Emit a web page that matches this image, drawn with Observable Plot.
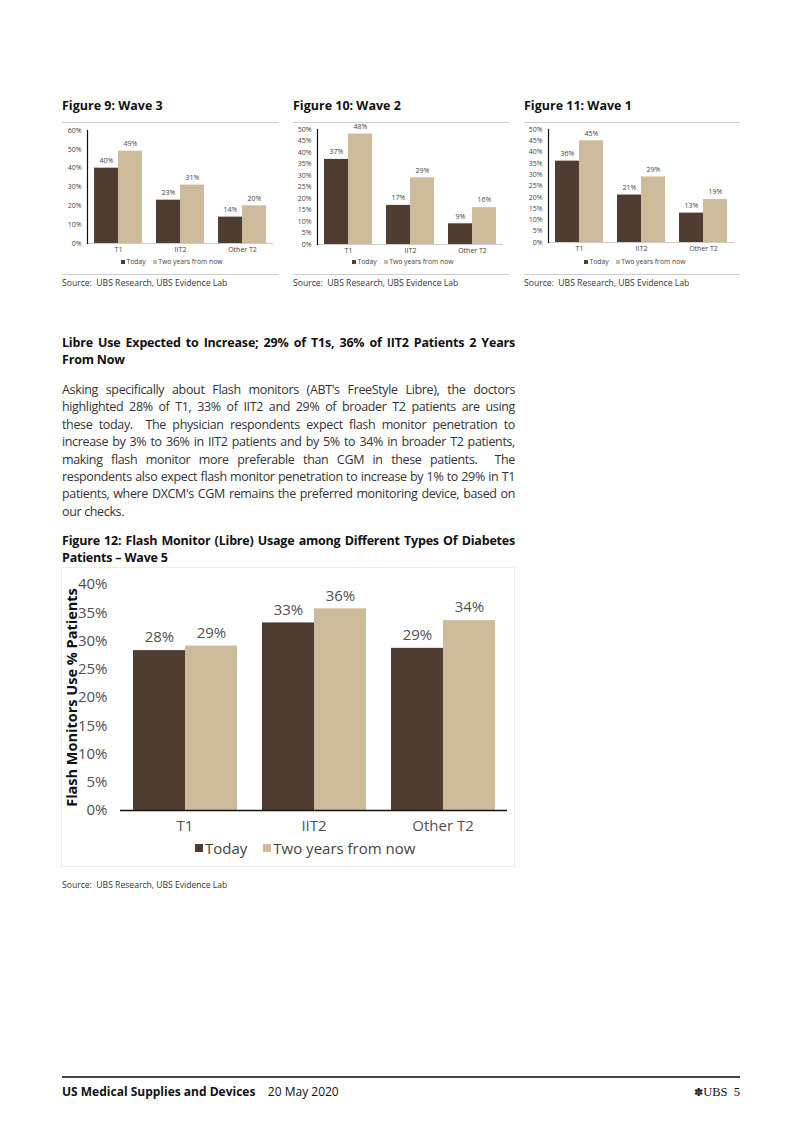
<!DOCTYPE html>
<html>
<head>
<meta charset="utf-8">
<script src="https://cdn.jsdelivr.net/npm/d3@7"></script>
<script src="https://cdn.jsdelivr.net/npm/@observablehq/plot@0.6"></script>
<style>
  html, body { margin: 0; padding: 0; background: #fff; }
  body { width: 802px; height: 1133px; position: relative; overflow: hidden; font-family: "Open Sans", sans-serif; color: #222; }
  .abs { position: absolute; }
  .ftitle { font-weight: 700; font-size: 12.5px; line-height: 16px; color: #111; white-space: nowrap; }
  .rule { height: 0; border-top: 1px solid #cfcfcf; }
  .src { font-size: 8.6px; color: #333; white-space: nowrap; line-height: 12px; }
  .legend { display: flex; align-items: center; white-space: nowrap; color: #444; }
  .sw { display: inline-block; }
  .jl { white-space: nowrap; text-align: justify; text-align-last: justify; width: 453px; }
  .nl { white-space: nowrap; }
  .para { font-size: 12.5px; line-height: 17.4px; color: #333; letter-spacing: -0.35px; }
  .head { font-size: 12.5px; line-height: 16.5px; font-weight: 700; color: #111; letter-spacing: -0.2px; }
</style>
</head>
<body>
<script>
// ---------------- data ----------------
const categories = ["T1", "IIT2", "Other T2"];
const seriesNames = ["Today", "Two years from now"];
const seriesColors = ["#4f3d31", "#cdbb9b"];

const wave3Today  = [0.40, 0.23, 0.14];
const wave3Future = [0.49, 0.31, 0.20];
const wave2Today  = [0.37, 0.17, 0.09];
const wave2Future = [0.48, 0.29, 0.16];
const wave1Today  = [0.36, 0.21, 0.13];
const wave1Future = [0.45, 0.29, 0.19];
const wave5Today  = [0.283, 0.332, 0.287];
const wave5Future = [0.291, 0.357, 0.336];

const wave3Ticks = [0, 0.1, 0.2, 0.3, 0.4, 0.5, 0.6];
const fiveStepTicks = [0, 0.05, 0.1, 0.15, 0.2, 0.25, 0.3, 0.35, 0.4, 0.45, 0.5];
const wave5Ticks = [0, 0.05, 0.1, 0.15, 0.2, 0.25, 0.3, 0.35, 0.4];

const pct = d3.format(".0%");

function rowsOf(today, future) {
  const rows = [];
  categories.forEach((c, i) => {
    rows.push({category: c, series: seriesNames[0], value: today[i]});
    rows.push({category: c, series: seriesNames[1], value: future[i]});
  });
  return rows;
}

function el(tag, cls, style, html) {
  const e = document.createElement(tag);
  if (cls) e.className = cls;
  if (style) Object.assign(e.style, style);
  if (html != null) e.innerHTML = html;
  document.body.appendChild(e);
  return e;
}

function makeChart(o) {
  const rows = rowsOf(o.today, o.future);
  const marks = [
    Plot.axisY({ticks: o.ticks, tickFormat: pct, tickSize: 0, tickPadding: o.tickPadding, label: null, fontSize: o.fontSize, fill: o.tickColor}),
    Plot.axisFx({anchor: "bottom", tickSize: 0, tickPadding: o.catPadding, label: null, fontSize: o.catSize, fill: o.catColor}),
    Plot.barY(rows, {fx: "category", x: "series", y: "value", fill: "series"}),
    Plot.text(rows, {fx: "category", x: "series", y: "value", text: d => pct(d.value), dy: o.labelDy, fontSize: o.fontSize, fill: o.tickColor}),
    Plot.ruleY([0], {stroke: o.baseColor, strokeWidth: o.baseWidth})
  ];
  if (o.leftLine) marks.push(Plot.frame({anchor: "left", facetAnchor: "left", stroke: "#111", strokeWidth: 1.2}));
  if (o.yTitle) marks.push(Plot.text([o.yTitle], {frameAnchor: "left", facetAnchor: "left", textAnchor: "middle", lineAnchor: "middle", rotate: -90, dx: o.yTitleDx, fontSize: o.yTitleSize, fontWeight: "bold", fill: "#111", text: d => d}));
  return Plot.plot({
    width: o.width, height: o.height,
    marginLeft: o.ml, marginRight: o.mr, marginTop: o.mt, marginBottom: o.mb,
    style: {fontFamily: "'Open Sans', sans-serif", color: o.tickColor, background: "transparent", overflow: "visible"},
    fx: {domain: categories, paddingInner: 0, paddingOuter: 0, label: null},
    x: {domain: seriesNames, paddingInner: 0, paddingOuter: o.barPadOuter, axis: null},
    y: {domain: [0, o.ymax], axis: null},
    color: {domain: seriesNames, range: seriesColors},
    marks
  });
}

function legend(left, top, fontSize, sw, gap, inner) {
  const L = el("div", "abs legend", {left: left + "px", top: top + "px", fontSize: fontSize + "px", lineHeight: (fontSize + 3) + "px"});
  seriesNames.forEach((s, i) => {
    const item = document.createElement("span");
    item.style.display = "inline-flex";
    item.style.alignItems = "center";
    item.style.marginRight = (i === 0 ? gap : 0) + "px";
    const box = document.createElement("span");
    box.className = "sw";
    Object.assign(box.style, {width: sw + "px", height: sw + "px", background: seriesColors[i], marginRight: inner + "px"});
    item.appendChild(box);
    item.appendChild(document.createTextNode(s));
    L.appendChild(item);
  });
}

// ---------------- small figures ----------------
const small = [
  {title: "Figure 9: Wave 3", left: 62, w: 217, today: wave3Today, future: wave3Future, ticks: wave3Ticks, ymax: 0.6, h: 132, mt: 6, legLeft: 121},
  {title: "Figure 10: Wave 2", left: 293, w: 216, today: wave2Today, future: wave2Future, ticks: fiveStepTicks, ymax: 0.5, h: 133, mt: 5, legLeft: 352},
  {title: "Figure 11: Wave 1", left: 524, w: 216, today: wave1Today, future: wave1Future, ticks: fiveStepTicks, ymax: 0.5, h: 131, mt: 5, legLeft: 584}
];

small.forEach(f => {
  el("div", "abs ftitle", {left: f.left + "px", top: "98px"}, f.title);
  el("div", "abs rule", {left: f.left + "px", top: "122px", width: f.w + "px"});
  const svg = makeChart({
    width: f.w, height: f.h, ml: 24, mr: 6, mt: f.mt, mb: 13,
    today: f.today, future: f.future, ticks: f.ticks, ymax: f.ymax,
    tickPadding: 6, fontSize: 7, tickColor: "#444", labelDy: -7.5,
    catPadding: 4, catSize: 7, catColor: "#444",
    barPadOuter: 0.25, baseColor: "#bdbdbd", baseWidth: 0.8, leftLine: true
  });
  const wrap = el("div", "abs", {left: f.left + "px", top: "124px"});
  wrap.appendChild(svg);
  legend(f.legLeft, 257, 6.8, 4, 7, 1.5);
  el("div", "abs rule", {left: f.left + "px", top: "274px", width: f.w + "px"});
  el("div", "abs src", {left: f.left + "px", top: "277px"}, "Source:&nbsp; UBS Research, UBS Evidence Lab");
});

// ---------------- text ----------------
el("div", "abs head", {left: "62px", top: "335px"},
  '<div class="jl">Libre Use Expected to Increase; 29% of T1s, 36% of IIT2 Patients 2 Years</div><div class="nl">From Now</div>');

const paraLines = [
  "Asking specifically about Flash monitors (ABT's FreeStyle Libre), the doctors",
  "highlighted 28% of T1, 33% of IIT2 and 29% of broader T2 patients are using",
  "these today.&nbsp; The physician respondents expect flash monitor penetration to",
  "increase by 3% to 36% in IIT2 patients and by 5% to 34% in broader T2 patients,",
  "making flash monitor more preferable than CGM in these patients.&nbsp; The",
  "respondents also expect flash monitor penetration to increase by 1% to 29% in T1",
  "patients, where DXCM's CGM remains the preferred monitoring device, based on",
  "our checks."
];
el("div", "abs para", {left: "62px", top: "381px"},
  paraLines.map((l, i) => `<div class="${i < paraLines.length - 1 ? "jl" : "nl"}">${l}</div>`).join(""));

el("div", "abs head", {left: "62px", top: "533px"},
  '<div class="jl">Figure 12: Flash Monitor (Libre) Usage among Different Types Of Diabetes</div><div class="nl">Patients – Wave 5</div>');

// ---------------- big figure ----------------
el("div", "abs", {left: "61px", top: "567px", width: "454px", height: "300px", border: "1px solid #ececec", boxSizing: "border-box"});
const big = makeChart({
  width: 453, height: 268, ml: 58, mr: 8, mt: 14, mb: 28,
  today: wave5Today, future: wave5Future, ticks: wave5Ticks, ymax: 0.4,
  tickPadding: 13, fontSize: 15, tickColor: "#505050", labelDy: -13,
  catPadding: 10, catSize: 15, catColor: "#505050",
  barPadOuter: 0.24, baseColor: "#111", baseWidth: 1.5, leftLine: false,
  yTitle: "Flash Monitors Use % Patients", yTitleDx: -48, yTitleSize: 14.5
});
const bigWrap = el("div", "abs", {left: "62px", top: "570px"});
bigWrap.appendChild(big);
legend(195, 839, 15, 8, 16, 2);
el("div", "abs src", {left: "62px", top: "879px"}, "Source:&nbsp; UBS Research, UBS Evidence Lab");

// ---------------- footer ----------------
el("div", "abs", {left: "62px", top: "1076px", width: "678px", height: "1.5px", background: "#444"});
el("div", "abs nl", {left: "62px", top: "1084px", fontSize: "12px", lineHeight: "16px", color: "#111"},
  '<b>US Medical Supplies and Devices</b>&nbsp;&nbsp;&nbsp; 20 May 2020');
el("div", "abs nl", {right: "62px", top: "1084px", fontSize: "12.5px", lineHeight: "16px", color: "#111", fontFamily: "'Liberation Serif', serif"},
  '<span style="font-size:11px">✽</span>UBS&nbsp; 5');
</script>
</body>
</html>
